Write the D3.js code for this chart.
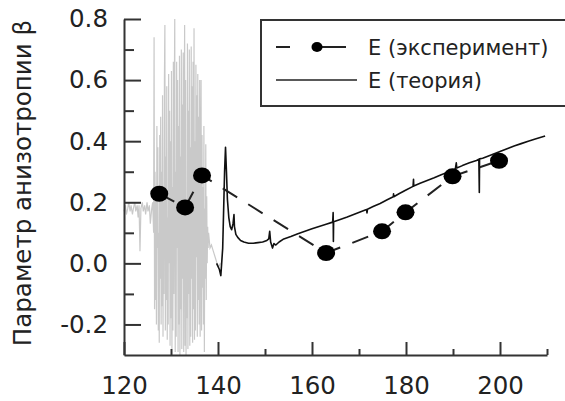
<!DOCTYPE html>
<head>
<meta charset="utf-8" />
<script src="https://d3js.org/d3.v7.min.js"></script>
<style>
  body { margin: 0; background: #fff; }
  text { font-family: "DejaVu Sans", sans-serif; fill: #222; }
</style>
</head>
<body>
<script>
// experiment points
var expX = [127.5, 133.0, 136.6, 163.0, 174.9, 179.9, 189.9, 199.8];
var expY = [0.228, 0.183, 0.288, 0.034, 0.105, 0.167, 0.285, 0.336];

// theory curve
var theoX = [139.7, 140.3, 140.6, 141.0, 141.4, 141.6, 141.8, 142.0, 142.3, 142.6, 142.9, 143.2, 143.4, 143.5, 143.8, 144.2, 144.8, 145.5, 146.5, 147.5, 148.5, 149.5, 150.4, 150.8, 151.0, 151.2, 151.6, 151.9, 152.3, 153.0, 154.0, 155.5, 157.0, 158.5, 160.0, 161.5, 163.0, 164.4, 164.5, 164.55, 164.6, 166.0, 167.5, 169.0, 170.5, 171.6, 171.7, 171.8, 173.0, 174.5, 176.0, 177.3, 177.35, 177.4, 178.5, 180.0, 181.5, 181.6, 181.65, 183.0, 184.5, 186.0, 187.5, 189.0, 190.5, 190.7, 190.8, 192.0, 193.5, 195.0, 195.5, 195.6, 195.65, 196.3, 197.0, 198.5, 200.0, 201.5, 203.0, 204.5, 206.0, 207.5, 209.6];
var theoY = [0.00, -0.02, -0.04, 0.05, 0.30, 0.38, 0.30, 0.21, 0.15, 0.12, 0.11, 0.13, 0.16, 0.12, 0.095, 0.085, 0.075, 0.07, 0.066, 0.066, 0.068, 0.07, 0.075, 0.08, 0.105, 0.07, 0.05, 0.065, 0.06, 0.07, 0.08, 0.088, 0.097, 0.105, 0.113, 0.121, 0.128, 0.135, 0.166, 0.072, 0.136, 0.144, 0.152, 0.161, 0.170, 0.176, 0.165, 0.177, 0.186, 0.196, 0.208, 0.218, 0.228, 0.218, 0.228, 0.240, 0.252, 0.275, 0.253, 0.262, 0.271, 0.280, 0.290, 0.299, 0.309, 0.329, 0.312, 0.320, 0.329, 0.337, 0.341, 0.232, 0.342, 0.344, 0.348, 0.357, 0.366, 0.375, 0.384, 0.392, 0.400, 0.407, 0.417];

// noisy gray signal
var noiseX = [120.0, 120.3, 120.5, 120.8, 121.0, 121.3, 121.5, 121.8, 122.0, 122.3, 122.5, 122.8, 123.0, 123.2, 123.4, 123.6, 123.9, 124.1, 124.4, 124.6, 124.9, 125.1, 125.4, 125.6, 125.9, 126.1, 126.3, 126.4, 126.5,
  126.6, 126.7, 126.8, 126.9,
  127.0, 127.1, 127.2, 127.3, 127.4, 127.5, 127.6, 127.7, 127.8, 127.9,
  128.0, 128.1, 128.2, 128.3, 128.4, 128.5, 128.6, 128.7, 128.8, 128.9,
  129.0, 129.1, 129.2, 129.3, 129.4, 129.5, 129.6, 129.7, 129.8, 129.9,
  130.0, 130.1, 130.2, 130.3, 130.4, 130.5, 130.6, 130.7, 130.8, 130.9,
  131.0, 131.1, 131.2, 131.3, 131.4, 131.5, 131.6, 131.7, 131.8, 131.9,
  132.0, 132.1, 132.2, 132.3, 132.4, 132.5, 132.6, 132.7, 132.8, 132.9,
  133.0, 133.1, 133.2, 133.3, 133.4, 133.5, 133.6, 133.7, 133.8, 133.9,
  134.0, 134.1, 134.2, 134.3, 134.4, 134.5, 134.6, 134.7, 134.8, 134.9,
  135.0, 135.1, 135.2, 135.3, 135.4, 135.5, 135.6, 135.7, 135.8, 135.9,
  136.0, 136.1, 136.2, 136.3, 136.4, 136.5, 136.6, 136.7, 136.8, 136.9,
  137.0, 137.1, 137.2, 137.3, 137.4, 137.5, 137.6, 137.7, 137.8, 137.9,
  138.0, 138.3, 138.6, 139.0, 139.4, 139.8, 140.2, 140.5];
var noiseY = [0.17, 0.19, 0.16, 0.18, 0.20, 0.17, 0.19, 0.16, 0.18, 0.20, 0.17, 0.19, 0.15, 0.19, 0.04, 0.18, 0.20, 0.17, 0.19, 0.16, 0.20, 0.17, 0.19, 0.13, 0.18, 0.20, 0.10, 0.74, -0.15,
  0.30, -0.12, 0.22, -0.20,
  0.45, 0.05, 0.38, -0.22, 0.10, -0.26, 0.42, -0.05, 0.48, -0.20,
  0.30, -0.14, 0.55, -0.24, 0.20, -0.10, 0.60, 0.78, -0.22, 0.35,
  -0.12, 0.58, -0.25, 0.15, -0.20, 0.62, 0.00, 0.50, -0.27, 0.40,
  -0.18, 0.63, -0.28, 0.25, -0.22, 0.66, -0.10, 0.55, 0.80, -0.29,
  0.30, -0.24, 0.66, 0.05, 0.60, -0.29, 0.45, -0.20, 0.68, -0.30,
  0.35, -0.15, 0.70, -0.28, 0.52, -0.05, 0.69, -0.29, 0.40, 0.78,
  -0.27, 0.60, -0.30, 0.20, -0.18, 0.72, -0.28, 0.50, -0.10, 0.70,
  -0.27, 0.38, -0.24, 0.71, -0.05, 0.58, -0.26, 0.66, -0.15, 0.77,
  -0.25, 0.40, -0.22, 0.65, 0.02, 0.55, -0.24, 0.62, -0.12, 0.48,
  -0.20, 0.60, -0.24, 0.30, 0.60, -0.22, 0.42, -0.08, 0.25, -0.20,
  0.45, -0.29, 0.18, -0.05, 0.39, -0.12, 0.22, 0.00, 0.12, 0.05,
  0.10, 0.05, 0.06, 0.04, 0.02, 0.00, -0.01, 0.00];

var yMajor = [-0.2, 0.0, 0.2, 0.4, 0.6, 0.8];
var yMinor = [-0.1, 0.1, 0.3, 0.5, 0.7];
var xMajor = [120, 140, 160, 180, 200];
var xMinor = [130, 150, 170, 190, 210];

var legendLabels = ["E (эксперимент)", "E (теория)"];
var yTitle = "Параметр анизотропии β";

var width = 565, height = 401;

var svg = d3.select("body").append("svg")
  .attr("width", width)
  .attr("height", height);

var x = d3.scaleLinear().domain([120, 210]).range([124, 547]);
var y = d3.scaleLinear().domain([-0.3, 0.8]).range([355, 19]);

// gray signal
var noise = d3.zip(noiseX, noiseY);
svg.append("path")
  .datum(noise)
  .attr("fill", "none")
  .attr("stroke", "#c9c9c9")
  .attr("stroke-width", 1.2)
  .attr("d", d3.line().x(d => x(d[0])).y(d => y(d[1])));

// theory
var theo = d3.zip(theoX, theoY);
svg.append("path")
  .datum(theo)
  .attr("fill", "none")
  .attr("stroke", "#111")
  .attr("stroke-width", 1.6)
  .attr("stroke-linejoin", "round")
  .attr("d", d3.line().x(d => x(d[0])).y(d => y(d[1])));

// experiment
var exp = d3.zip(expX, expY);
svg.append("path")
  .datum(exp)
  .attr("fill", "none")
  .attr("stroke", "#222")
  .attr("stroke-width", 2)
  .attr("stroke-dasharray", "17,13")
  .attr("d", d3.line().x(d => x(d[0])).y(d => y(d[1])));

svg.selectAll("ellipse.pt")
  .data(exp)
  .join("ellipse")
  .attr("class", "pt")
  .attr("cx", d => x(d[0]))
  .attr("cy", d => y(d[1]))
  .attr("rx", 9)
  .attr("ry", 8)
  .attr("fill", "#000");

// axes
svg.append("g").attr("transform", "translate(124,0)")
  .call(d3.axisLeft(y).tickValues(yMajor).tickSize(-17).tickSizeOuter(0).tickPadding(16).tickFormat(d => d.toFixed(1)));
svg.append("g").attr("transform", "translate(124,0)")
  .call(d3.axisLeft(y).tickValues(yMinor).tickSize(-10).tickFormat(""))
  .select(".domain").remove();

svg.append("g").attr("transform", "translate(0,355)")
  .call(d3.axisBottom(x).tickValues(xMajor).tickSize(-13).tickSizeOuter(0).tickPadding(22).tickFormat(d3.format("d")));
svg.append("g").attr("transform", "translate(0,355)")
  .call(d3.axisBottom(x).tickValues(xMinor).tickSize(-6).tickFormat(""))
  .select(".domain").remove();

svg.selectAll(".domain, .tick line")
  .attr("stroke", "#333")
  .attr("stroke-width", 2);
svg.selectAll(".tick text")
  .style("font-size", "24.5px")
  .attr("fill", "#222");

svg.append("text")
  .attr("transform", "translate(31,183) rotate(-90)")
  .attr("text-anchor", "middle")
  .style("font-size", "24.5px")
  .text(yTitle);

// legend
var lg = svg.append("g");
lg.append("rect")
  .attr("x", 261).attr("y", 20)
  .attr("width", 320).attr("height", 86)
  .attr("fill", "#fff")
  .attr("stroke", "#333")
  .attr("stroke-width", 2);
lg.append("line")
  .attr("x1", 276).attr("x2", 357).attr("y1", 47).attr("y2", 47)
  .attr("stroke", "#222").attr("stroke-width", 2)
  .attr("stroke-dasharray", "14,27,29");
lg.append("ellipse")
  .attr("cx", 317).attr("cy", 47).attr("rx", 5.5).attr("ry", 5)
  .attr("fill", "#000");
lg.append("line")
  .attr("x1", 276).attr("x2", 357).attr("y1", 80).attr("y2", 80)
  .attr("stroke", "#222").attr("stroke-width", 1.6);
lg.selectAll("text.lab")
  .data(legendLabels)
  .join("text")
  .attr("class", "lab")
  .attr("x", 368)
  .attr("y", (d, i) => 55 + i * 33)
  .style("font-size", "21px")
  .text(d => d);
</script>
</body>
